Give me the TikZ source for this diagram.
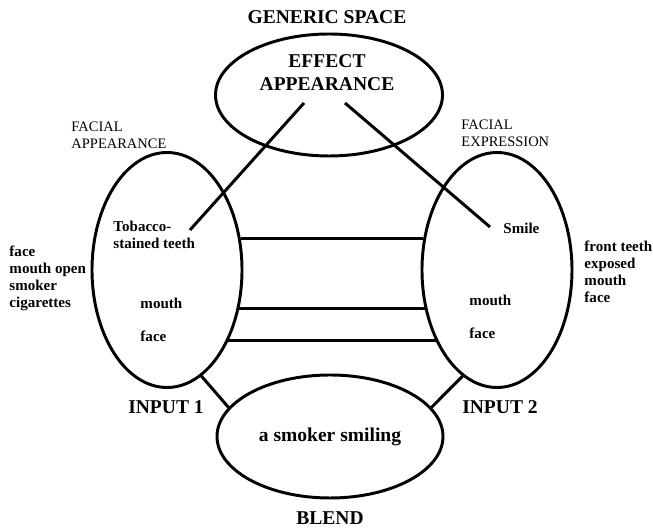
\documentclass[tikz,border=0pt]{standalone}
\usepackage{fontspec}
\setmainfont{Liberation Serif}
\usetikzlibrary{shapes}

\begin{document}
\begin{tikzpicture}[line width=2.1pt,
  oval/.style={ellipse, draw, inner sep=0pt},
  big/.style={font=\bfseries\fontsize{13.9}{16.4}\selectfont, align=center},
  small/.style={font=\bfseries\fontsize{10.7}{12.1}\selectfont, align=left, anchor=west, inner sep=0pt},
  head/.style={font=\fontsize{10.3}{12.1}\selectfont, align=left, anchor=west, inner sep=0pt}]
\useasboundingbox (0,0) rectangle (16.325,13.225);

% the four spaces
\node[oval, minimum width=5.675cm, minimum height=3.05cm] (G) at (8.225,10.85) {};
\node[oval, minimum width=3.75cm, minimum height=5.875cm] (L) at (4.175,6.475) {};
\node[oval, minimum width=3.75cm, minimum height=5.875cm] (R) at (12.425,6.475) {};
\node[oval, minimum width=5.65cm, minimum height=3.075cm, big] (B) at (8.25,2.3125) {a smoker smiling};

% titles
\node[big] (GS) at (8.175,12.8) {GENERIC SPACE};
\node[big] (E) at (8.175,11.4125) {EFFECT\\APPEARANCE};
\node[big] (I1) at (4.15,3.05) {INPUT 1};
\node[big] (I2) at (12.5,3.05) {INPUT 2};
\node[big, inner sep=0pt] (BL) at (8.25,0.27) {BLEND};
\node[head] (FA) at (1.75,9.85) {FACIAL\\APPEARANCE};
\node[head] (FE) at (11.5,9.9) {FACIAL\\EXPRESSION};

% input 1
\node[small] (T) at (2.8,7.3625) {Tobacco-\\stained teeth};
\node[small] (M1) at (3.475,5.65) {mouth};
\node[small] (F1) at (3.475,4.825) {face};
\node[small] (X1) at (0.2,6.275) {face\\mouth open\\smoker\\cigarettes};

% input 2
\node[small] (S) at (12.55,7.525) {Smile};
\node[small] (M2) at (11.7,5.725) {mouth};
\node[small] (F2) at (11.7,4.9) {face};
\node[small] (X2) at (14.575,6.425) {front teeth\\exposed\\mouth\\face};

\coordinate (g1) at (7.6,10.65);
\coordinate (g2) at (8.625,10.65);
\coordinate (t1) at (4.75,7.475);
\coordinate (s1) at (12.25,7.55);

\draw (g1) -- (t1);
\draw (g2) -- (s1);

\draw (L.23.9) -- (R.156.1 |- L.23.9);
\draw (L.-28.9) -- (R.-151.1 |- L.-28.9);
\draw (L.-49.2) -- (R.-130.8 |- L.-49.2);

\draw (L.-72) -- (B.164);
\draw (R.-108) -- (B.16);

\end{tikzpicture}
\end{document}
